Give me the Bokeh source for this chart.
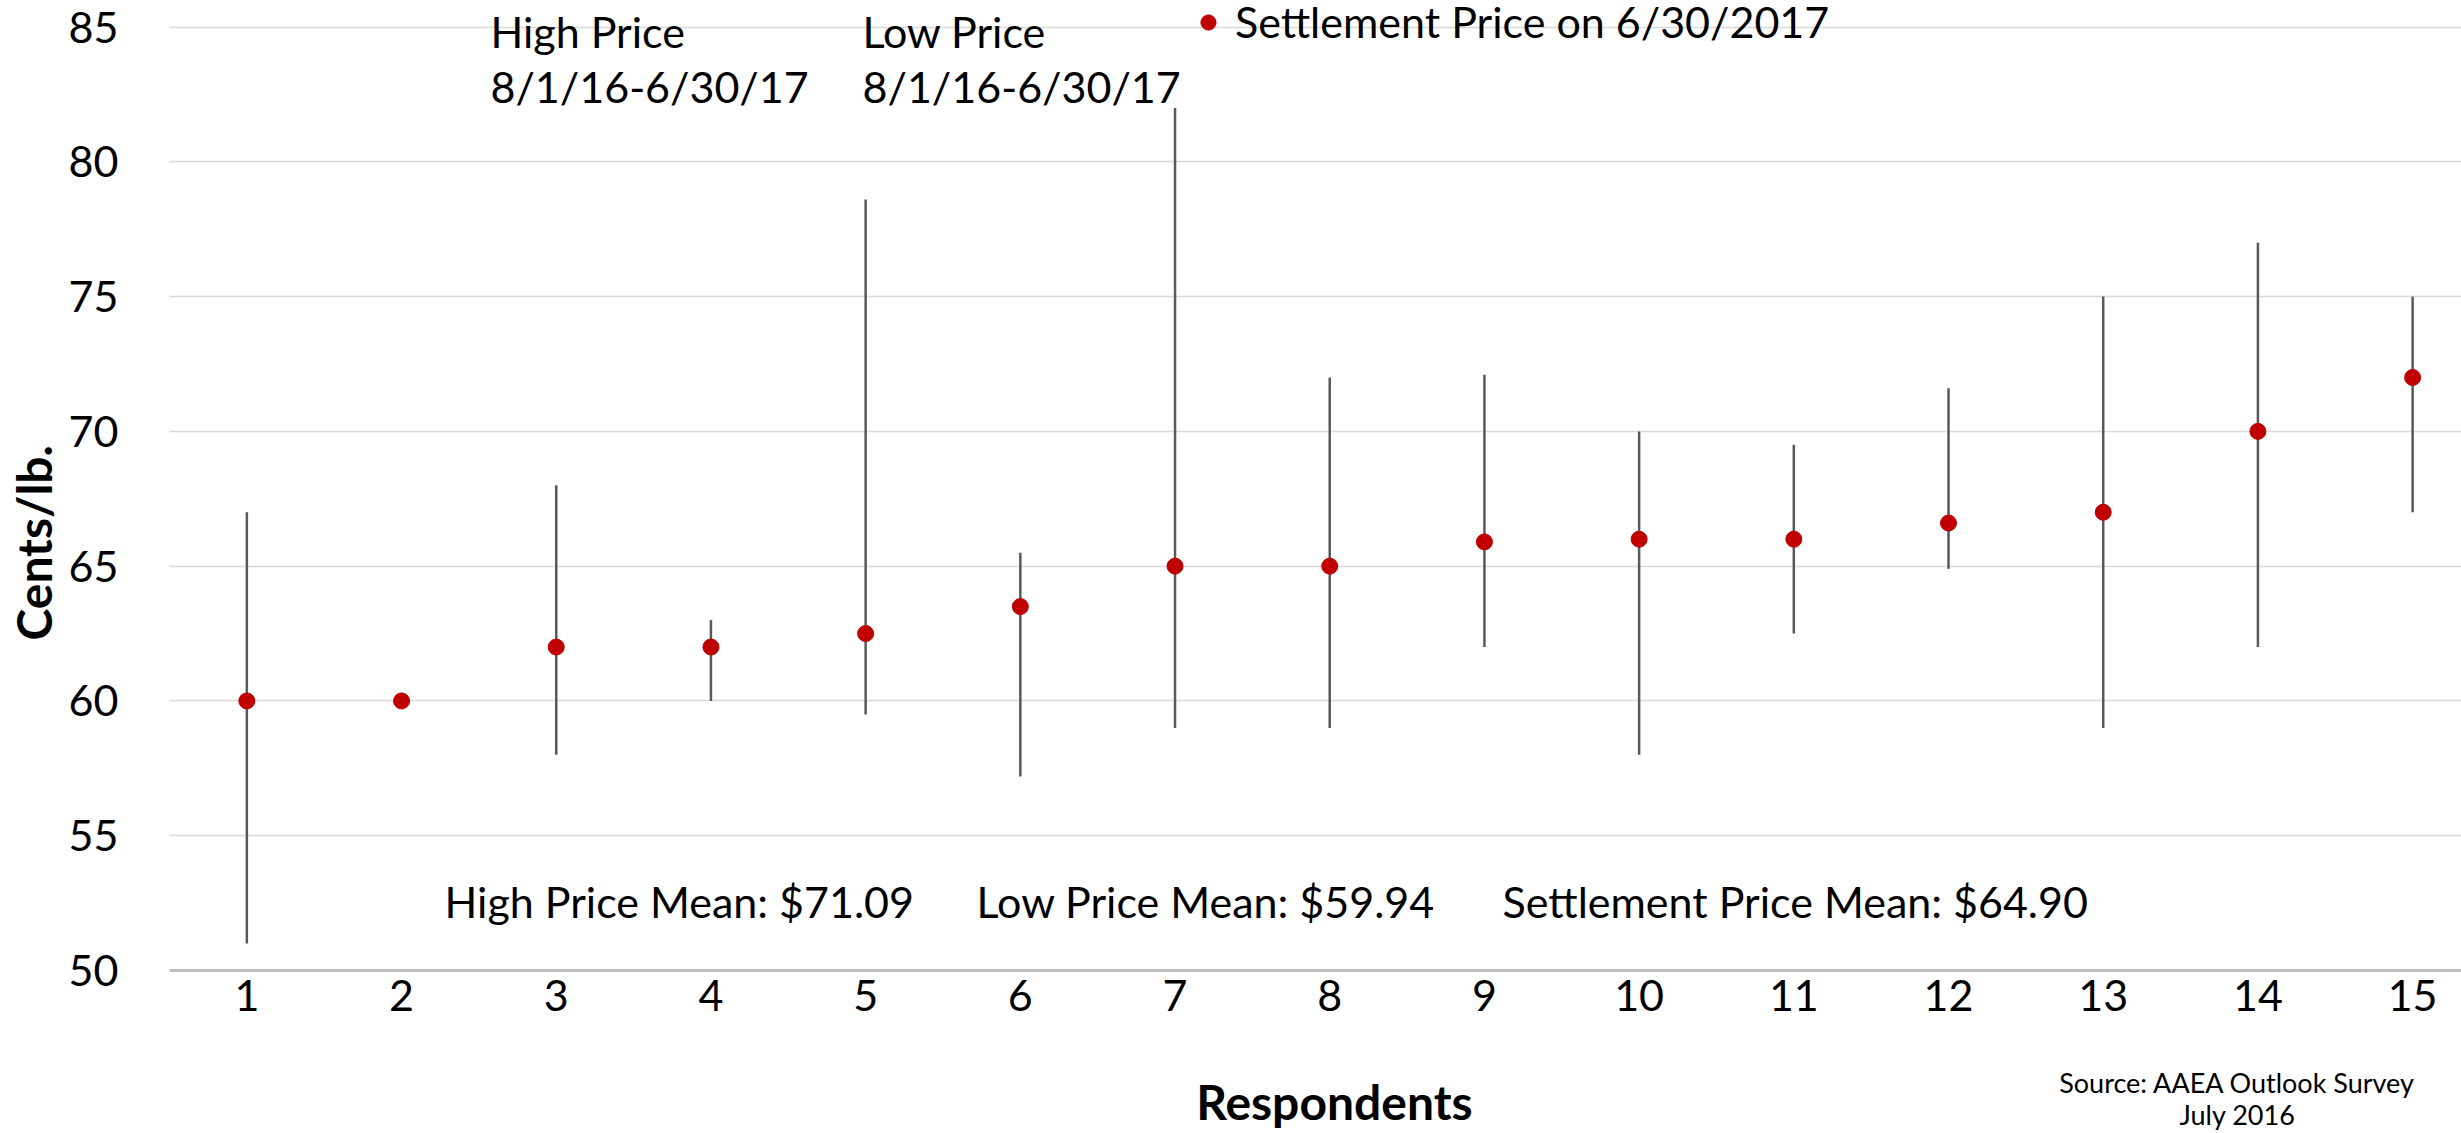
import math
from bokeh.plotting import figure
from bokeh.models import (Label, Legend, LegendItem, FixedTicker, ColumnDataSource, Range1d,
                          LinearAxis, CustomJSTickFormatter, Title)
from bokeh.embed import file_html
from bokeh.resources import INLINE

# ---- data ----
respondents = list(range(1, 16))
high_price = [67, 60, 68, 63, 78.6, 65.5, 82, 72, 72.1, 70, 69.5, 71.6, 75, 77, 75]
low_price = [51, 60, 58, 60, 59.5, 57.2, 59, 59, 62, 58, 62.5, 64.9, 59, 62, 67]
settlement_price = [60, 60, 62, 62, 62.5, 63.5, 65, 65, 65.9, 66, 66, 66.6, 67, 70, 72]
y_ticks = [50, 55, 60, 65, 70, 75, 80, 85]
x_ticks = respondents

high_mean = sum(high_price) / len(high_price)
low_mean = sum(low_price) / len(low_price)
settle_mean = sum(settlement_price) / len(settlement_price)

FONT = "Lato"
FS = "43px"
TITLE_FS = "48px"
SMALL = "27px"

src = ColumnDataSource(dict(x=respondents, high=high_price, low=low_price, settle=settlement_price))

p = figure(width=2461, height=1133, output_backend="svg", toolbar_location=None,
           x_range=Range1d(0.5, 15.316), y_range=Range1d(50, 85.985),
           min_border_left=169, min_border_right=0, min_border_top=0, min_border_bottom=158)
p.outline_line_color = None
p.background_fill_color = "white"
p.border_fill_color = "white"

# grid
p.xgrid.grid_line_color = None
p.ygrid.grid_line_color = "#d9d9d9"
p.ygrid.grid_line_width = 1.5
p.yaxis.ticker = FixedTicker(ticks=y_ticks)
p.xaxis.ticker = FixedTicker(ticks=x_ticks)

def style_axis(ax, size=FS, bold=False):
    ax.major_tick_line_color = None
    ax.minor_tick_line_color = None
    ax.major_tick_out = 0
    ax.major_tick_in = 0
    ax.minor_tick_out = 0
    ax.minor_tick_in = 0
    ax.major_label_text_font = FONT
    ax.major_label_text_font_size = size
    ax.major_label_text_font_style = "bold" if bold else "normal"
    ax.major_label_text_color = "black"

for ax in (p.xaxis[0], p.yaxis[0]):
    style_axis(ax)
p.yaxis.axis_line_color = None
p.yaxis.major_label_standoff = 51
p.xaxis.axis_line_color = "#bfbfbf"
p.xaxis.axis_line_width = 3
p.xaxis.major_label_standoff = 9

def text_axis(text, pos, size, bold, standoff):
    ax = LinearAxis(ticker=FixedTicker(ticks=[pos]),
                    formatter=CustomJSTickFormatter(args=dict(t=text), code="return t"))
    style_axis(ax, size, bold)
    ax.axis_line_color = None
    ax.major_label_standoff = standoff
    return ax

# bottom texts (stacked below the x axis)
p.add_layout(text_axis("Source: AAEA Outlook Survey", 13.868, SMALL, False, 52), "below")
p.add_layout(text_axis("July 2016", 13.868, SMALL, False, -4), "below")
p.add_layout(text_axis("Respondents", 8.03, TITLE_FS, True, -61), "below")

# left axis title
p.add_layout(Title(text="Cents/lb.", align="left", offset=330, vertical_align="middle", standoff=6,
                   text_font=FONT, text_font_size=TITLE_FS, text_font_style="bold", text_color="black"),
             "left")

# high-low lines
p.segment(x0="x", y0="low", x1="x", y1="high", source=src, line_color="#595959", line_width=2.5)
dots = p.scatter(x="x", y="settle", source=src, size=16, marker="circle",
                 fill_color="#c00000", line_color="#c00000")

# legend for settlement dots
legend = Legend(items=[LegendItem(label="Settlement Price on 6/30/2017", renderers=[dots])],
                location=(1020, 923), orientation="horizontal",
                glyph_width=38, glyph_height=38, label_standoff=8,
                padding=0, margin=0, spacing=0,
                background_fill_alpha=0, border_line_alpha=0,
                label_text_font=FONT, label_text_font_size=FS, label_text_color="black")
p.add_layout(legend)

def add_label(text, x, y, size=FS):
    p.add_layout(Label(x=x, y=y, text=text, text_font=FONT, text_font_size=size,
                       text_align="left", text_baseline="middle", text_color="black"))

# legend texts for high / low series
add_label("High Price", 2.575, 84.84)
add_label("8/1/16-6/30/17", 2.575, 82.80)
add_label("Low Price", 4.98, 84.84)
add_label("8/1/16-6/30/17", 4.98, 82.80)

# means
add_label(f"High Price Mean: ${high_mean:.2f}", 2.278, 52.55)
add_label(f"Low Price Mean: ${low_mean:.2f}", 5.717, 52.55)
add_label(f"Settlement Price Mean: ${settle_mean:.2f}", 9.117, 52.55)

open("out.html", "w").write(file_html(p, INLINE))
